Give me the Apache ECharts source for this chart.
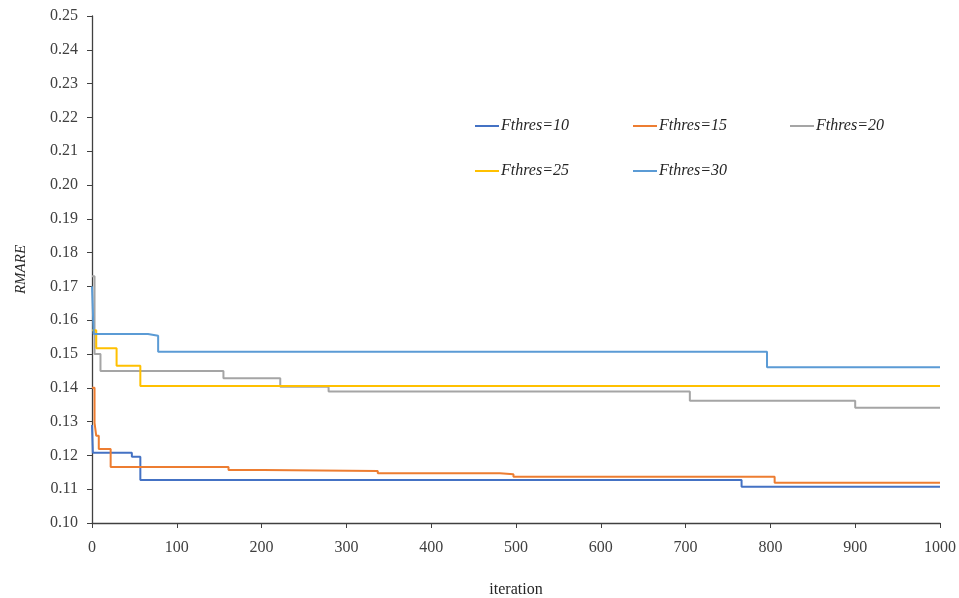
<!DOCTYPE html>
<html><head><meta charset="utf-8">
<script src="https://cdn.jsdelivr.net/npm/echarts@6/dist/echarts.min.js"></script>
<style>html,body{margin:0;padding:0;background:#fff}#c{width:959px;height:598px}</style>
</head><body><div id="c"></div>
<script>
const seriesNames = ['Fthres=10','Fthres=15','Fthres=20','Fthres=25','Fthres=30'];
const colors = ['#4472C4','#ED7D31','#A5A5A5','#FFC000','#5B9BD5'];
const iter10 = [0, 1, 47, 57, 766, 1000];
const val10  = [0.129, 0.1208, 0.1196, 0.1127, 0.1107, 0.1107];
const iter15 = [0, 3, 5, 8, 22, 161, 202, 337, 481, 497, 805, 1000];
const val15  = [0.140, 0.1296, 0.1258, 0.1219, 0.1166, 0.1157, 0.1154, 0.1147, 0.1144, 0.1137, 0.1119, 0.1119];
const iter20 = [0, 3, 10, 155, 222, 279, 705, 900, 1000];
const val20  = [0.173, 0.150, 0.145, 0.1428, 0.1403, 0.1389, 0.1362, 0.1341, 0.1341];
const iter25 = [0, 5, 29, 57, 1000];
const val25  = [0.157, 0.1517, 0.1465, 0.1405, 0.1405];
const iter30 = [0, 2, 66, 78, 796, 1000];
const val30  = [0.170, 0.1559, 0.1554, 0.1507, 0.1461, 0.1461];
const xTicks = [0,100,200,300,400,500,600,700,800,900,1000];

const iters = [iter10, iter15, iter20, iter25, iter30];
const vals = [val10, val15, val20, val25, val30];
const legendPos = [[470,113],[628,113],[785,113],[470,158],[628,158]];
const font = '"Liberation Serif", serif';
const chart = echarts.init(document.getElementById('c'));
chart.setOption({
  animation: false,
  textStyle: {fontFamily: font},
  grid: {left: 92, right: 19, top: 16, bottom: 75, containLabel: false, outerBoundsMode: 'none'},
  legend: seriesNames.map((n, i) => ({
    data: [n], left: legendPos[i][0], top: legendPos[i][1],
    icon: 'rect', itemWidth: 24, itemHeight: 2, itemGap: 0,
    textStyle: {fontFamily: font, fontStyle: 'italic', fontSize: 16, color: '#262626', padding: [0,0,0,-3]}
  })),
  xAxis: {
    type: 'value', min: 0, max: 1000, interval: 100,
    name: 'iteration', nameLocation: 'middle', nameGap: 59,
    nameTextStyle: {fontFamily: font, fontSize: 16, color: '#262626'},
    axisLine: {lineStyle: {color: '#404040', width: 1.3}},
    axisTick: {show: true, length: 5, lineStyle: {color: '#404040'}},
    axisLabel: {fontSize: 16, color: '#404040', margin: 17, formatter: v => xTicks.includes(v) ? String(v) : ''},
    splitLine: {show: false}
  },
  yAxis: {
    type: 'value', min: 0.10, max: 0.25, interval: 0.01,
    name: 'RMARE', nameLocation: 'middle', nameGap: 63,
    nameTextStyle: {fontFamily: font, fontSize: 15, fontStyle: 'italic', color: '#262626'},
    axisLine: {show: true, lineStyle: {color: '#404040', width: 1.3}},
    axisTick: {show: true, length: 5, lineStyle: {color: '#404040'}},
    axisLabel: {fontSize: 16, color: '#404040', margin: 14, formatter: v => v.toFixed(2)},
    splitLine: {show: false}
  },
  series: seriesNames.map((n, i) => ({
    name: n, type: 'line', step: 'end', symbol: 'none',
    lineStyle: {width: 2, color: colors[i]}, itemStyle: {color: colors[i]},
    data: iters[i].map((x, k) => [x, vals[i][k]])
  }))
});
</script></body></html>
